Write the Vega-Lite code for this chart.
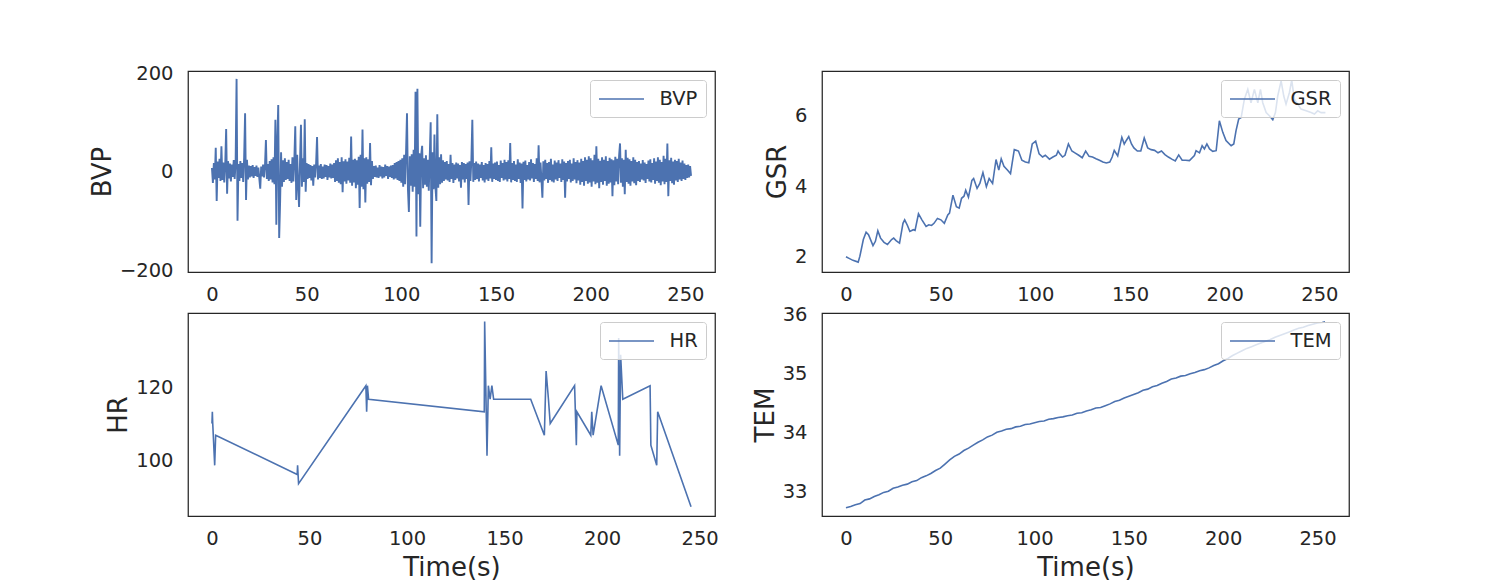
{
  "$schema": "https://vega.github.io/schema/vega-lite/v6.json",
  "background": "white",
  "padding": {"left": 88, "top": 62, "right": 0, "bottom": 0},
  "config": {
    "font": "DejaVu Sans",
    "view": {"stroke": "#262626", "strokeWidth": 1.25},
    "axis": {"domain": false, "ticks": false, "grid": false, "labelFont": "DejaVu Sans", "labelFontSize": 19.5, "labelColor": "#262626", "titleFont": "DejaVu Sans", "titleFontSize": 26, "titleFontWeight": "normal", "titleColor": "#262626", "labelOverlap": false, "labelFlush": false},
    "axisX": {"labelPadding": 13, "titlePadding": 7},
    "axisY": {"labelPadding": 15, "titlePadding": 4},
    "legend": {"orient": "top-right", "offset": 9, "padding": 8, "fillColor": "rgba(255,255,255,0.8)", "strokeColor": "#cccccc", "cornerRadius": 3, "symbolType": "M-2.25,0H2.25", "symbolSize": 400, "symbolOffset": 12.5, "symbolStrokeWidth": 1.6, "symbolStrokeColor": "#4c72b0", "symbolFillColor": "transparent", "labelFont": "DejaVu Sans", "labelFontSize": 19.5, "labelColor": "#262626", "labelOffset": 27}
  },
  "columns": 2,
  "spacing": {"row": 41, "column": 107},
  "bounds": "flush",
  "resolve": {"scale": {"color": "independent"}},
  "concat": [
    {
      "width": 527, "height": 201,
      "data": {"values": [
        {"t":0,"v":8},{"t":0.5,"v":-22},{"t":1,"v":18},{"t":1.5,"v":-15},{"t":2,"v":49},{"t":2.5,"v":-59},{"t":3,"v":21},{"t":3.5,"v":-12},{"t":4,"v":27},{"t":4.5,"v":-18},
        {"t":5,"v":52},{"t":5.5,"v":-16},{"t":6,"v":19},{"t":6.5,"v":-21},{"t":7,"v":14},{"t":7.5,"v":87},{"t":8,"v":-44},{"t":8.5,"v":22},{"t":9,"v":-13},{"t":9.5,"v":17},
        {"t":10,"v":-19},{"t":10.5,"v":15},{"t":11,"v":-10},{"t":11.5,"v":24},{"t":12,"v":-14},{"t":12.5,"v":20},{"t":13,"v":189},{"t":13.5,"v":-99},{"t":14,"v":16},{"t":14.5,"v":-18},
        {"t":15,"v":22},{"t":15.5,"v":-12},{"t":16,"v":18},{"t":16.5,"v":-20},{"t":17,"v":30},{"t":17.5,"v":119},{"t":18,"v":-57},{"t":18.5,"v":25},{"t":19,"v":-15},{"t":19.5,"v":13},
        {"t":20,"v":-11},{"t":20.5,"v":12},{"t":21,"v":-9},{"t":21.5,"v":14},{"t":22,"v":-12},{"t":22.5,"v":10},{"t":23,"v":-8},{"t":23.5,"v":13},{"t":24,"v":-10},{"t":24.5,"v":9},
        {"t":25,"v":-13},{"t":25.5,"v":-34},{"t":26,"v":11},{"t":26.5,"v":-9},{"t":27,"v":15},{"t":27.5,"v":-11},{"t":28,"v":12},{"t":28.5,"v":65},{"t":29,"v":-14},{"t":29.5,"v":16},
        {"t":30,"v":-18},{"t":30.5,"v":22},{"t":31,"v":-15},{"t":31.5,"v":26},{"t":32,"v":-21},{"t":32.5,"v":30},{"t":33,"v":-25},{"t":33.5,"v":106},{"t":34,"v":-107},{"t":34.5,"v":60},
        {"t":35,"v":136},{"t":35.5,"v":-134},{"t":36,"v":-60},{"t":36.5,"v":40},{"t":37,"v":-30},{"t":37.5,"v":24},{"t":38,"v":-20},{"t":38.5,"v":28},{"t":39,"v":-16},{"t":39.5,"v":20},
        {"t":40,"v":-14},{"t":40.5,"v":25},{"t":41,"v":-18},{"t":41.5,"v":16},{"t":42,"v":-22},{"t":42.5,"v":30},{"t":43,"v":-19},{"t":43.5,"v":24},{"t":44,"v":93},{"t":44.5,"v":-57},
        {"t":45,"v":35},{"t":45.5,"v":-25},{"t":46,"v":-71},{"t":46.5,"v":20},{"t":47,"v":96},{"t":47.5,"v":-30},{"t":48,"v":28},{"t":48.5,"v":-20},{"t":49,"v":107},{"t":49.5,"v":-40},
        {"t":50,"v":18},{"t":50.5,"v":-14},{"t":51,"v":16},{"t":51.5,"v":-12},{"t":52,"v":14},{"t":52.5,"v":-17},{"t":53,"v":12},{"t":53.5,"v":-28},{"t":54,"v":15},{"t":54.5,"v":-11},
        {"t":55,"v":17},{"t":55.5,"v":71},{"t":56,"v":-15},{"t":56.5,"v":13},{"t":57,"v":-12},{"t":57.5,"v":16},{"t":58,"v":-14},{"t":58.5,"v":11},{"t":59,"v":-13},{"t":59.5,"v":15},
        {"t":60,"v":-10},{"t":60.5,"v":14},{"t":61,"v":-16},{"t":61.5,"v":12},{"t":62,"v":-11},{"t":62.5,"v":17},{"t":63,"v":-13},{"t":63.5,"v":15},{"t":64,"v":-12},{"t":64.5,"v":18},
        {"t":65,"v":-20},{"t":65.5,"v":24},{"t":66,"v":-18},{"t":66.5,"v":28},{"t":67,"v":-22},{"t":67.5,"v":20},{"t":68,"v":-25},{"t":68.5,"v":30},{"t":69,"v":-41},{"t":69.5,"v":22},
        {"t":70,"v":-19},{"t":70.5,"v":26},{"t":71,"v":-24},{"t":71.5,"v":21},{"t":72,"v":-17},{"t":72.5,"v":29},{"t":73,"v":-22},{"t":73.5,"v":72},{"t":74,"v":-28},{"t":74.5,"v":25},
        {"t":75,"v":-21},{"t":75.5,"v":27},{"t":76,"v":-33},{"t":76.5,"v":24},{"t":77,"v":-26},{"t":77.5,"v":31},{"t":78,"v":-73},{"t":78.5,"v":35},{"t":79,"v":-30},{"t":79.5,"v":86},
        {"t":80,"v":-35},{"t":80.5,"v":28},{"t":81,"v":-62},{"t":81.5,"v":30},{"t":82,"v":-24},{"t":82.5,"v":26},{"t":83,"v":-20},{"t":83.5,"v":59},{"t":84,"v":-27},{"t":84.5,"v":22},
        {"t":85,"v":-14},{"t":85.5,"v":12},{"t":86,"v":-10},{"t":86.5,"v":13},{"t":87,"v":-11},{"t":87.5,"v":9},{"t":88,"v":-12},{"t":88.5,"v":14},{"t":89,"v":-9},{"t":89.5,"v":11},
        {"t":90,"v":-13},{"t":90.5,"v":10},{"t":91,"v":-11},{"t":91.5,"v":15},{"t":92,"v":-8},{"t":92.5,"v":12},{"t":93,"v":-14},{"t":93.5,"v":11},{"t":94,"v":-10},{"t":94.5,"v":13},
        {"t":95,"v":-12},{"t":95.5,"v":14},{"t":96,"v":-15},{"t":96.5,"v":18},{"t":97,"v":-13},{"t":97.5,"v":20},{"t":98,"v":-16},{"t":98.5,"v":22},{"t":99,"v":-18},{"t":99.5,"v":25},
        {"t":100,"v":-22},{"t":100.5,"v":28},{"t":101,"v":-30},{"t":101.5,"v":35},{"t":102,"v":-25},{"t":102.5,"v":40},{"t":103,"v":119},{"t":103.5,"v":-35},{"t":104,"v":-81},{"t":104.5,"v":32},
        {"t":105,"v":-28},{"t":105.5,"v":36},{"t":106,"v":-40},{"t":106.5,"v":45},{"t":107,"v":-30},{"t":107.5,"v":163},{"t":108,"v":-131},{"t":108.5,"v":169},{"t":109,"v":-45},{"t":109.5,"v":38},
        {"t":110,"v":-111},{"t":110.5,"v":35},{"t":111,"v":53},{"t":111.5,"v":-33},{"t":112,"v":28},{"t":112.5,"v":-26},{"t":113,"v":34},{"t":113.5,"v":-30},{"t":114,"v":25},{"t":114.5,"v":-38},
        {"t":115,"v":30},{"t":115.5,"v":101},{"t":116,"v":-185},{"t":116.5,"v":40},{"t":117,"v":-35},{"t":117.5,"v":76},{"t":118,"v":-30},{"t":118.5,"v":-59},{"t":119,"v":117},{"t":119.5,"v":-32},
        {"t":120,"v":30},{"t":120.5,"v":-25},{"t":121,"v":36},{"t":121.5,"v":-22},{"t":122,"v":24},{"t":122.5,"v":-18},{"t":123,"v":20},{"t":123.5,"v":-15},{"t":124,"v":22},{"t":124.5,"v":-17},
        {"t":125,"v":16},{"t":125.5,"v":-20},{"t":126,"v":35},{"t":126.5,"v":-14},{"t":127,"v":18},{"t":127.5,"v":-22},{"t":128,"v":15},{"t":128.5,"v":-16},{"t":129,"v":19},{"t":129.5,"v":-13},
        {"t":130,"v":17},{"t":130.5,"v":-19},{"t":131,"v":14},{"t":131.5,"v":-32},{"t":132,"v":20},{"t":132.5,"v":-15},{"t":133,"v":18},{"t":133.5,"v":-21},{"t":134,"v":16},{"t":134.5,"v":-14},
        {"t":135,"v":19},{"t":135.5,"v":-67},{"t":136,"v":22},{"t":136.5,"v":-18},{"t":137,"v":25},{"t":137.5,"v":106},{"t":138,"v":-20},{"t":138.5,"v":18},{"t":139,"v":-16},{"t":139.5,"v":21},
        {"t":140,"v":-14},{"t":140.5,"v":17},{"t":141,"v":-19},{"t":141.5,"v":15},{"t":142,"v":-12},{"t":142.5,"v":20},{"t":143,"v":-17},{"t":143.5,"v":14},{"t":144,"v":-21},{"t":144.5,"v":18},
        {"t":145,"v":-15},{"t":145.5,"v":16},{"t":146,"v":-18},{"t":146.5,"v":22},{"t":147,"v":-13},{"t":147.5,"v":50},{"t":148,"v":-20},{"t":148.5,"v":17},{"t":149,"v":-14},{"t":149.5,"v":19},
        {"t":150,"v":-16},{"t":150.5,"v":21},{"t":151,"v":-18},{"t":151.5,"v":14},{"t":152,"v":-20},{"t":152.5,"v":23},{"t":153,"v":-12},{"t":153.5,"v":18},{"t":154,"v":-17},{"t":154.5,"v":25},
        {"t":155,"v":-15},{"t":155.5,"v":20},{"t":156,"v":-19},{"t":156.5,"v":24},{"t":157,"v":-14},{"t":157.5,"v":59},{"t":158,"v":-21},{"t":158.5,"v":18},{"t":159,"v":-16},{"t":159.5,"v":22},
        {"t":160,"v":-18},{"t":160.5,"v":15},{"t":161,"v":-20},{"t":161.5,"v":26},{"t":162,"v":-14},{"t":162.5,"v":19},{"t":163,"v":-22},{"t":163.5,"v":17},{"t":164,"v":-74},{"t":164.5,"v":21},
        {"t":165,"v":-16},{"t":165.5,"v":23},{"t":166,"v":-19},{"t":166.5,"v":14},{"t":167,"v":-15},{"t":167.5,"v":20},{"t":168,"v":-17},{"t":168.5,"v":26},{"t":169,"v":-13},{"t":169.5,"v":18},
        {"t":170,"v":-20},{"t":170.5,"v":16},{"t":171,"v":-14},{"t":171.5,"v":28},{"t":172,"v":-18},{"t":172.5,"v":54},{"t":173,"v":-21},{"t":173.5,"v":19},{"t":174,"v":-15},{"t":174.5,"v":-52},
        {"t":175,"v":22},{"t":175.5,"v":-17},{"t":176,"v":25},{"t":176.5,"v":-14},{"t":177,"v":18},{"t":177.5,"v":-22},{"t":178,"v":20},{"t":178.5,"v":-16},{"t":179,"v":27},{"t":179.5,"v":-19},
        {"t":180,"v":15},{"t":180.5,"v":-21},{"t":181,"v":23},{"t":181.5,"v":-15},{"t":182,"v":19},{"t":182.5,"v":-18},{"t":183,"v":24},{"t":183.5,"v":-12},{"t":184,"v":17},{"t":184.5,"v":-20},
        {"t":185,"v":26},{"t":185.5,"v":-16},{"t":186,"v":21},{"t":186.5,"v":-52},{"t":187,"v":18},{"t":187.5,"v":-19},{"t":188,"v":22},{"t":188.5,"v":-14},{"t":189,"v":25},{"t":189.5,"v":-21},
        {"t":190,"v":17},{"t":190.5,"v":-18},{"t":191,"v":28},{"t":191.5,"v":-15},{"t":192,"v":20},{"t":192.5,"v":-23},{"t":193,"v":24},{"t":193.5,"v":-17},{"t":194,"v":19},{"t":194.5,"v":-26},
        {"t":195,"v":27},{"t":195.5,"v":-20},{"t":196,"v":22},{"t":196.5,"v":-28},{"t":197,"v":30},{"t":197.5,"v":-18},{"t":198,"v":25},{"t":198.5,"v":-24},{"t":199,"v":32},{"t":199.5,"v":-21},
        {"t":200,"v":28},{"t":200.5,"v":-30},{"t":201,"v":24},{"t":201.5,"v":-19},{"t":202,"v":35},{"t":202.5,"v":-25},{"t":203,"v":52},{"t":203.5,"v":-22},{"t":204,"v":27},{"t":204.5,"v":-33},
        {"t":205,"v":23},{"t":205.5,"v":-20},{"t":206,"v":30},{"t":206.5,"v":-26},{"t":207,"v":25},{"t":207.5,"v":-18},{"t":208,"v":32},{"t":208.5,"v":-28},{"t":209,"v":22},{"t":209.5,"v":-24},
        {"t":210,"v":29},{"t":210.5,"v":-21},{"t":211,"v":26},{"t":211.5,"v":-49},{"t":212,"v":24},{"t":212.5,"v":-27},{"t":213,"v":31},{"t":213.5,"v":-19},{"t":214,"v":27},{"t":214.5,"v":-25},
        {"t":215,"v":33},{"t":215.5,"v":58},{"t":216,"v":-22},{"t":216.5,"v":28},{"t":217,"v":-30},{"t":217.5,"v":25},{"t":218,"v":-45},{"t":218.5,"v":45},{"t":219,"v":-20},{"t":219.5,"v":29},
        {"t":220,"v":-24},{"t":220.5,"v":26},{"t":221,"v":-28},{"t":221.5,"v":22},{"t":222,"v":-19},{"t":222.5,"v":30},{"t":223,"v":-23},{"t":223.5,"v":25},{"t":224,"v":-27},{"t":224.5,"v":20},
        {"t":225,"v":-18},{"t":225.5,"v":22},{"t":226,"v":-20},{"t":226.5,"v":17},{"t":227,"v":-15},{"t":227.5,"v":24},{"t":228,"v":-17},{"t":228.5,"v":19},{"t":229,"v":-22},{"t":229.5,"v":16},
        {"t":230,"v":-14},{"t":230.5,"v":23},{"t":231,"v":-19},{"t":231.5,"v":26},{"t":232,"v":-21},{"t":232.5,"v":18},{"t":233,"v":-16},{"t":233.5,"v":28},{"t":234,"v":-24},{"t":234.5,"v":21},
        {"t":235,"v":-18},{"t":235.5,"v":30},{"t":236,"v":-22},{"t":236.5,"v":25},{"t":237,"v":-27},{"t":237.5,"v":20},{"t":238,"v":-19},{"t":238.5,"v":33},{"t":239,"v":-25},{"t":239.5,"v":27},
        {"t":240,"v":-20},{"t":240.5,"v":58},{"t":241,"v":-49},{"t":241.5,"v":24},{"t":242,"v":-18},{"t":242.5,"v":29},{"t":243,"v":-23},{"t":243.5,"v":21},{"t":244,"v":-26},{"t":244.5,"v":25},
        {"t":245,"v":-17},{"t":245.5,"v":22},{"t":246,"v":-20},{"t":246.5,"v":27},{"t":247,"v":-15},{"t":247.5,"v":19},{"t":248,"v":-18},{"t":248.5,"v":23},{"t":249,"v":-14},{"t":249.5,"v":17},
        {"t":250,"v":-16},{"t":250.5,"v":14},{"t":251,"v":-12},{"t":251.5,"v":15},{"t":252,"v":-11},{"t":252.5,"v":12},{"t":253,"v":-8}
      ]},
      "mark": {"type": "line", "strokeWidth": 1.9, "clip": true},
      "encoding": {
        "x": {"field": "t", "type": "quantitative", "scale": {"domain": [-12.65, 265.65], "nice": false, "zero": false}, "axis": {"values": [0, 50, 100, 150, 200, 250], "title": null}},
        "y": {"field": "v", "type": "quantitative", "scale": {"domain": [-203, 205], "nice": false, "zero": false}, "axis": {"values": [-200, 0, 200], "title": "BVP"}},
        "color": {"datum": "BVP", "type": "nominal", "scale": {"range": ["#4c72b0"]}, "legend": {"title": null}}
      }
    },
    {
      "width": 527, "height": 201,
      "data": {"values": [
        {"t":0,"v":2.0},{"t":1.9,"v":1.95},{"t":3.7,"v":1.9},{"t":6.45,"v":1.85},{"t":7.36,"v":2.02},{"t":9.18,"v":2.49},{"t":10.64,"v":2.7},{"t":11.91,"v":2.63},{"t":14.28,"v":2.32},{"t":15.55,"v":2.44},
        {"t":16.83,"v":2.74},{"t":18.28,"v":2.53},{"t":20.1,"v":2.41},{"t":21.92,"v":2.35},{"t":24.1,"v":2.49},{"t":25.2,"v":2.53},{"t":26.47,"v":2.46},{"t":28.29,"v":2.39},{"t":30.11,"v":2.95},{"t":31.02,"v":3.05},
        {"t":32.48,"v":2.89},{"t":33.75,"v":2.72},{"t":35.57,"v":2.77},{"t":36.48,"v":2.75},{"t":38.3,"v":3.22},{"t":40.12,"v":3.05},{"t":42.3,"v":2.86},{"t":43.76,"v":2.91},{"t":45.22,"v":2.89},{"t":46.49,"v":2.95},
        {"t":48.31,"v":3.09},{"t":50.13,"v":3.05},{"t":51.95,"v":2.95},{"t":53.77,"v":3.19},{"t":54.68,"v":3.24},{"t":56.5,"v":3.75},{"t":58.32,"v":3.42},{"t":59.78,"v":3.38},{"t":61.05,"v":3.66},{"t":62.33,"v":3.72},
        {"t":63.24,"v":3.89},{"t":64.69,"v":3.69},{"t":66.51,"v":4.17},{"t":67.42,"v":4.22},{"t":69.24,"v":3.94},{"t":70.7,"v":4.08},{"t":72.34,"v":4.39},{"t":74.16,"v":3.99},{"t":75.61,"v":4.22},{"t":77.43,"v":4.08},
        {"t":79.25,"v":4.76},{"t":80.71,"v":4.46},{"t":81.99,"v":4.78},{"t":83.44,"v":4.57},{"t":85.26,"v":4.46},{"t":86.9,"v":4.36},{"t":88.9,"v":5.04},{"t":91.09,"v":5.0},{"t":92.91,"v":4.74},{"t":94.73,"v":4.69},
        {"t":96.55,"v":4.67},{"t":98.37,"v":5.2},{"t":100.19,"v":5.28},{"t":102.01,"v":4.92},{"t":103.83,"v":4.83},{"t":105.28,"v":4.88},{"t":107.47,"v":4.77},{"t":109.29,"v":4.83},{"t":111.11,"v":4.88},{"t":112.02,"v":5.0},
        {"t":112.93,"v":4.92},{"t":114.38,"v":4.83},{"t":115.66,"v":4.88},{"t":117.48,"v":5.2},{"t":119.3,"v":5.0},{"t":121.12,"v":4.94},{"t":122.94,"v":4.88},{"t":124.76,"v":4.81},{"t":126.58,"v":5.0},{"t":128.4,"v":4.85},
        {"t":130.22,"v":4.83},{"t":132.04,"v":4.78},{"t":133.86,"v":4.74},{"t":135.68,"v":4.69},{"t":137.5,"v":4.66},{"t":139.32,"v":4.69},{"t":140.59,"v":4.83},{"t":141.68,"v":5.02},{"t":143.5,"v":4.86},{"t":145.69,"v":5.39},
        {"t":146.96,"v":5.2},{"t":148.05,"v":5.3},{"t":149.33,"v":5.41},{"t":150.78,"v":5.2},{"t":152.06,"v":5.09},{"t":153.88,"v":5.0},{"t":155.7,"v":5.0},{"t":157.52,"v":5.37},{"t":159.34,"v":5.09},{"t":161.16,"v":5.04},
        {"t":162.98,"v":5.02},{"t":164.8,"v":4.95},{"t":166.62,"v":5.0},{"t":168.44,"v":4.9},{"t":170.26,"v":4.83},{"t":172.08,"v":4.77},{"t":173.9,"v":4.72},{"t":175.72,"v":4.89},{"t":177.54,"v":4.74},{"t":179.36,"v":4.74},
        {"t":181.4,"v":4.73},{"t":184.0,"v":4.87},{"t":184.9,"v":5.01},{"t":186.7,"v":4.95},{"t":188.1,"v":5.15},{"t":189.3,"v":5.06},{"t":190.6,"v":5.2},{"t":192.0,"v":5.06},{"t":193.7,"v":4.99},{"t":195.5,"v":5.01},
        {"t":197.2,"v":5.86},{"t":199.0,"v":5.53},{"t":200.7,"v":5.3},{"t":203.4,"v":5.15},{"t":204.8,"v":5.2},{"t":206.0,"v":5.58},{"t":207.4,"v":5.91},{"t":208.7,"v":5.95},{"t":210.4,"v":6.47},{"t":212.2,"v":6.75},
        {"t":213.9,"v":6.37},{"t":215.7,"v":6.75},{"t":217.5,"v":6.37},{"t":218.9,"v":6.75},{"t":220.1,"v":6.37},{"t":221.9,"v":6.09},{"t":223.6,"v":6.0},{"t":225.4,"v":5.89},{"t":226.8,"v":6.09},{"t":228.0,"v":6.56},
        {"t":229.8,"v":6.99},{"t":231.2,"v":6.56},{"t":232.4,"v":6.33},{"t":234.2,"v":6.66},{"t":235.4,"v":7.01},{"t":236.8,"v":6.47},{"t":238.6,"v":6.33},{"t":240.3,"v":6.19},{"t":243.0,"v":6.14},{"t":245.6,"v":6.09},
        {"t":247.4,"v":6.05},{"t":249.1,"v":6.14},{"t":250.9,"v":6.09},{"t":253.2,"v":6.09}
      ]},
      "mark": {"type": "line", "strokeWidth": 1.6, "clip": true},
      "encoding": {
        "x": {"field": "t", "type": "quantitative", "scale": {"domain": [-12.65, 265.65], "nice": false, "zero": false}, "axis": {"values": [0, 50, 100, 150, 200, 250], "title": null}},
        "y": {"field": "v", "type": "quantitative", "scale": {"domain": [1.57, 7.27], "nice": false, "zero": false}, "axis": {"values": [2, 4, 6], "title": "GSR"}},
        "color": {"datum": "GSR", "type": "nominal", "scale": {"range": ["#4c72b0"]}, "legend": {"title": null}}
      }
    },
    {
      "width": 527, "height": 203,
      "data": {"values": [
        {"t":0,"v":110.1},{"t":0.2,"v":113.3},{"t":0.4,"v":110.1},{"t":1.4,"v":98.7},{"t":1.9,"v":106.9},{"t":43.7,"v":96.2},{"t":43.9,"v":98.7},{"t":44.4,"v":93.7},
        {"t":78.9,"v":120.4},{"t":79.3,"v":113.3},{"t":79.7,"v":120.4},{"t":80.3,"v":116.7},{"t":139.6,"v":113.3},{"t":139.8,"v":137.9},{"t":141,"v":101.3},{"t":141.7,"v":120.4},
        {"t":142.6,"v":116.7},{"t":143.5,"v":120.4},{"t":144.4,"v":116.7},{"t":163.4,"v":116.7},{"t":170.4,"v":106.9},{"t":171.3,"v":124.4},{"t":172.5,"v":116.7},{"t":173.4,"v":110.1},
        {"t":185.9,"v":120.4},{"t":186.8,"v":104.2},{"t":187.1,"v":113.3},{"t":194.2,"v":106.9},{"t":194.7,"v":113.3},{"t":195.4,"v":106.9},{"t":199.5,"v":120.4},{"t":208.3,"v":104.2},
        {"t":208.5,"v":133.4},{"t":209,"v":101.3},{"t":209.5,"v":128.8},{"t":210.6,"v":116.7},{"t":224.6,"v":120.4},{"t":225,"v":104.2},{"t":228,"v":98.7},{"t":228.5,"v":113.3},{"t":245.6,"v":87.4}
      ]},
      "mark": {"type": "line", "strokeWidth": 1.6, "clip": true},
      "encoding": {
        "x": {"field": "t", "type": "quantitative", "scale": {"domain": [-12.28, 257.88], "nice": false, "zero": false}, "axis": {"values": [0, 50, 100, 150, 200, 250], "title": "Time(s)"}},
        "y": {"field": "v", "type": "quantitative", "scale": {"domain": [84.9, 140.2], "nice": false, "zero": false}, "axis": {"values": [100, 120], "title": "HR"}},
        "color": {"datum": "HR", "type": "nominal", "scale": {"range": ["#4c72b0"]}, "legend": {"title": null}}
      }
    },
    {
      "width": 527, "height": 203,
      "data": {"values": [
        {"t":0,"v":32.73},{"t":2.5,"v":32.75},{"t":5,"v":32.78},{"t":7.5,"v":32.8},{"t":10,"v":32.86},{"t":12.5,"v":32.88},{"t":15,"v":32.92},{"t":17.5,"v":32.95},{"t":20,"v":32.99},{"t":22.5,"v":33.01},
        {"t":25,"v":33.06},{"t":27.5,"v":33.08},{"t":30,"v":33.11},{"t":32.5,"v":33.13},{"t":35,"v":33.17},{"t":37.5,"v":33.19},{"t":40,"v":33.24},{"t":42.5,"v":33.27},{"t":45,"v":33.31},{"t":47.5,"v":33.36},
        {"t":50,"v":33.4},{"t":52.5,"v":33.47},{"t":55,"v":33.54},{"t":57.5,"v":33.6},{"t":60,"v":33.64},{"t":62.5,"v":33.7},{"t":65,"v":33.74},{"t":67.5,"v":33.79},{"t":70,"v":33.84},{"t":72.5,"v":33.88},
        {"t":75,"v":33.93},{"t":77.5,"v":33.96},{"t":80,"v":34.01},{"t":82.5,"v":34.03},{"t":85,"v":34.06},{"t":87.5,"v":34.07},{"t":90,"v":34.1},{"t":92.5,"v":34.11},{"t":95,"v":34.14},{"t":97.5,"v":34.15},
        {"t":100,"v":34.17},{"t":102.5,"v":34.19},{"t":105,"v":34.2},{"t":107.5,"v":34.23},{"t":110,"v":34.24},{"t":112.5,"v":34.26},{"t":115,"v":34.27},{"t":117.5,"v":34.29},{"t":120,"v":34.3},{"t":122.5,"v":34.33},
        {"t":125,"v":34.34},{"t":127.5,"v":34.37},{"t":130,"v":34.39},{"t":132.5,"v":34.42},{"t":135,"v":34.43},{"t":137.5,"v":34.46},{"t":140,"v":34.49},{"t":142.5,"v":34.53},{"t":145,"v":34.55},{"t":147.5,"v":34.59},
        {"t":150,"v":34.62},{"t":152.5,"v":34.65},{"t":155,"v":34.68},{"t":157.5,"v":34.72},{"t":160,"v":34.74},{"t":162.5,"v":34.78},{"t":165,"v":34.8},{"t":167.5,"v":34.84},{"t":170,"v":34.87},{"t":172.5,"v":34.91},
        {"t":175,"v":34.93},{"t":177.5,"v":34.96},{"t":180,"v":34.97},{"t":182.5,"v":35.0},{"t":185,"v":35.02},{"t":187.5,"v":35.05},{"t":190,"v":35.07},{"t":192.5,"v":35.1},{"t":195,"v":35.14},{"t":197.5,"v":35.17},
        {"t":200,"v":35.22},{"t":202.5,"v":35.26},{"t":205,"v":35.31},{"t":207.5,"v":35.35},{"t":210,"v":35.39},{"t":212.5,"v":35.43},{"t":215,"v":35.46},{"t":217.5,"v":35.49},{"t":220,"v":35.52},{"t":222.5,"v":35.55},
        {"t":225,"v":35.58},{"t":227.5,"v":35.62},{"t":230,"v":35.65},{"t":232.5,"v":35.68},{"t":235,"v":35.71},{"t":237.5,"v":35.74},{"t":240,"v":35.77},{"t":242.5,"v":35.79},{"t":245,"v":35.82},{"t":247.5,"v":35.84},
        {"t":250,"v":35.86},{"t":252.5,"v":35.87},{"t":254,"v":35.88}
      ]},
      "mark": {"type": "line", "strokeWidth": 1.6, "clip": true},
      "encoding": {
        "x": {"field": "t", "type": "quantitative", "scale": {"domain": [-12.7, 266.7], "nice": false, "zero": false}, "axis": {"values": [0, 50, 100, 150, 200, 250], "title": "Time(s)"}},
        "y": {"field": "v", "type": "quantitative", "scale": {"domain": [32.59, 36.03], "nice": false, "zero": false}, "axis": {"values": [33, 34, 35, 36], "title": "TEM"}},
        "color": {"datum": "TEM", "type": "nominal", "scale": {"range": ["#4c72b0"]}, "legend": {"title": null}}
      }
    }
  ]
}
